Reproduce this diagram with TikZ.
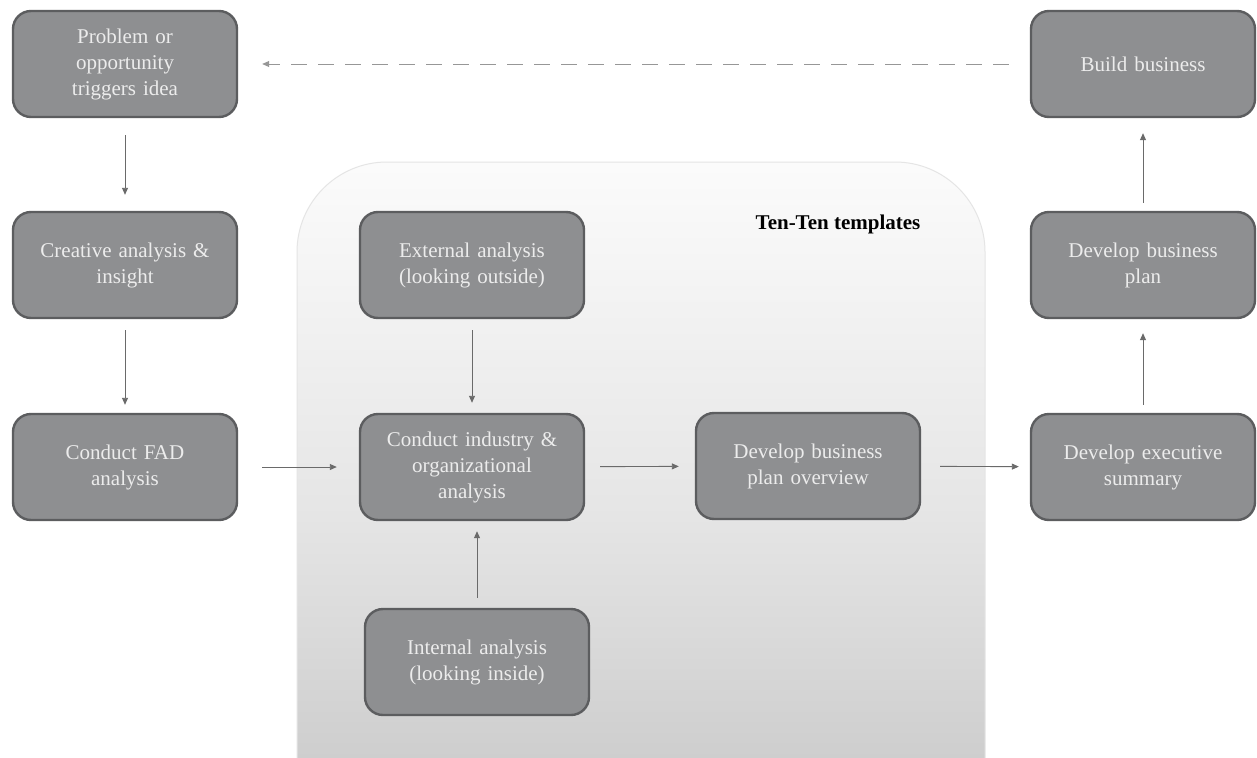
\documentclass[tikz,border=0pt]{standalone}
\usepackage{fontspec}
\setmainfont{Liberation Serif}
\usetikzlibrary{arrows.meta}
\definecolor{boxfill}{HTML}{8E8F91}
\definecolor{boxline}{HTML}{5C5D5F}
\definecolor{boxtext}{HTML}{ECECEC}
\definecolor{arrowc}{HTML}{6A6A6A}
\tikzset{
  stepbox/.style={draw=boxline, line width=2.4pt, fill=boxfill, rounded corners=18pt,
    minimum width=224pt, minimum height=106pt, text width=214pt, align=center,
    text=boxtext, font=\fontsize{21}{26}\selectfont, inner sep=0pt},
  flow/.style={draw=arrowc, line width=0.9pt, -{Triangle[length=7pt,width=6pt]}},
  dflow/.style={flow, dash pattern=on 16pt off 11pt, draw=arrowc!70}
}
\begin{document}
\begin{tikzpicture}[x=1pt,y=-1pt]
\useasboundingbox (0,0) rectangle (1257,757);
\clip (0,0) rectangle (1257,757);
\fill[white] (0,0) rectangle (1257,757);
\path[draw=gray!20, line width=1pt, rounded corners=90pt, top color=gray!3, bottom color=gray!46, middle color=gray!20]
  (297,162) rectangle (985,860);
\node[font=\fontsize{21}{24}\selectfont\bfseries, text=black] (tt) at (838,224) {Ten-Ten templates};

\node[stepbox] (prob) at (125,64) {Problem or\\opportunity\\triggers idea};
\node[stepbox] (crea) at (125,265) {Creative analysis \&\\insight};
\node[stepbox] (fad) at (125,467) {Conduct FAD\\analysis};
\node[stepbox] (ext) at (472,265) {External analysis\\(looking outside)};
\node[stepbox] (ind) at (472,467) {Conduct industry \&\\organizational\\analysis};
\node[stepbox] (int) at (477,662) {Internal analysis\\(looking inside)};
\node[stepbox] (ovw) at (808,466) {Develop business\\plan overview};
\node[stepbox] (build) at (1143,64) {Build business};
\node[stepbox] (plan) at (1143,265) {Develop business\\plan};
\node[stepbox] (exec) at (1143,467) {Develop executive\\summary};

\draw[flow, shorten <=17pt, shorten >=16pt] (prob) -- (crea);
\draw[flow, shorten <=11pt, shorten >=8pt] (crea) -- (fad);
\draw[flow, shorten <=24pt, shorten >=22pt] (fad) -- (ind);
\draw[flow, shorten <=11pt, shorten >=10pt] (ext) -- (ind);
\draw[flow, shorten <=10pt, shorten >=10pt] (int.north) -- (int.north |- ind.south);
\draw[flow, shorten <=15pt, shorten >=16pt] (ind) -- (ovw);
\draw[flow, shorten <=19pt, shorten >=11pt] (ovw) -- (exec);
\draw[flow, shorten <=8pt, shorten >=14pt] (exec) -- (plan);
\draw[flow, shorten <=8pt, shorten >=15pt] (plan) -- (build);
\draw[dflow, shorten <=21pt, shorten >=24pt] (build) -- (prob);
\end{tikzpicture}
\end{document}
